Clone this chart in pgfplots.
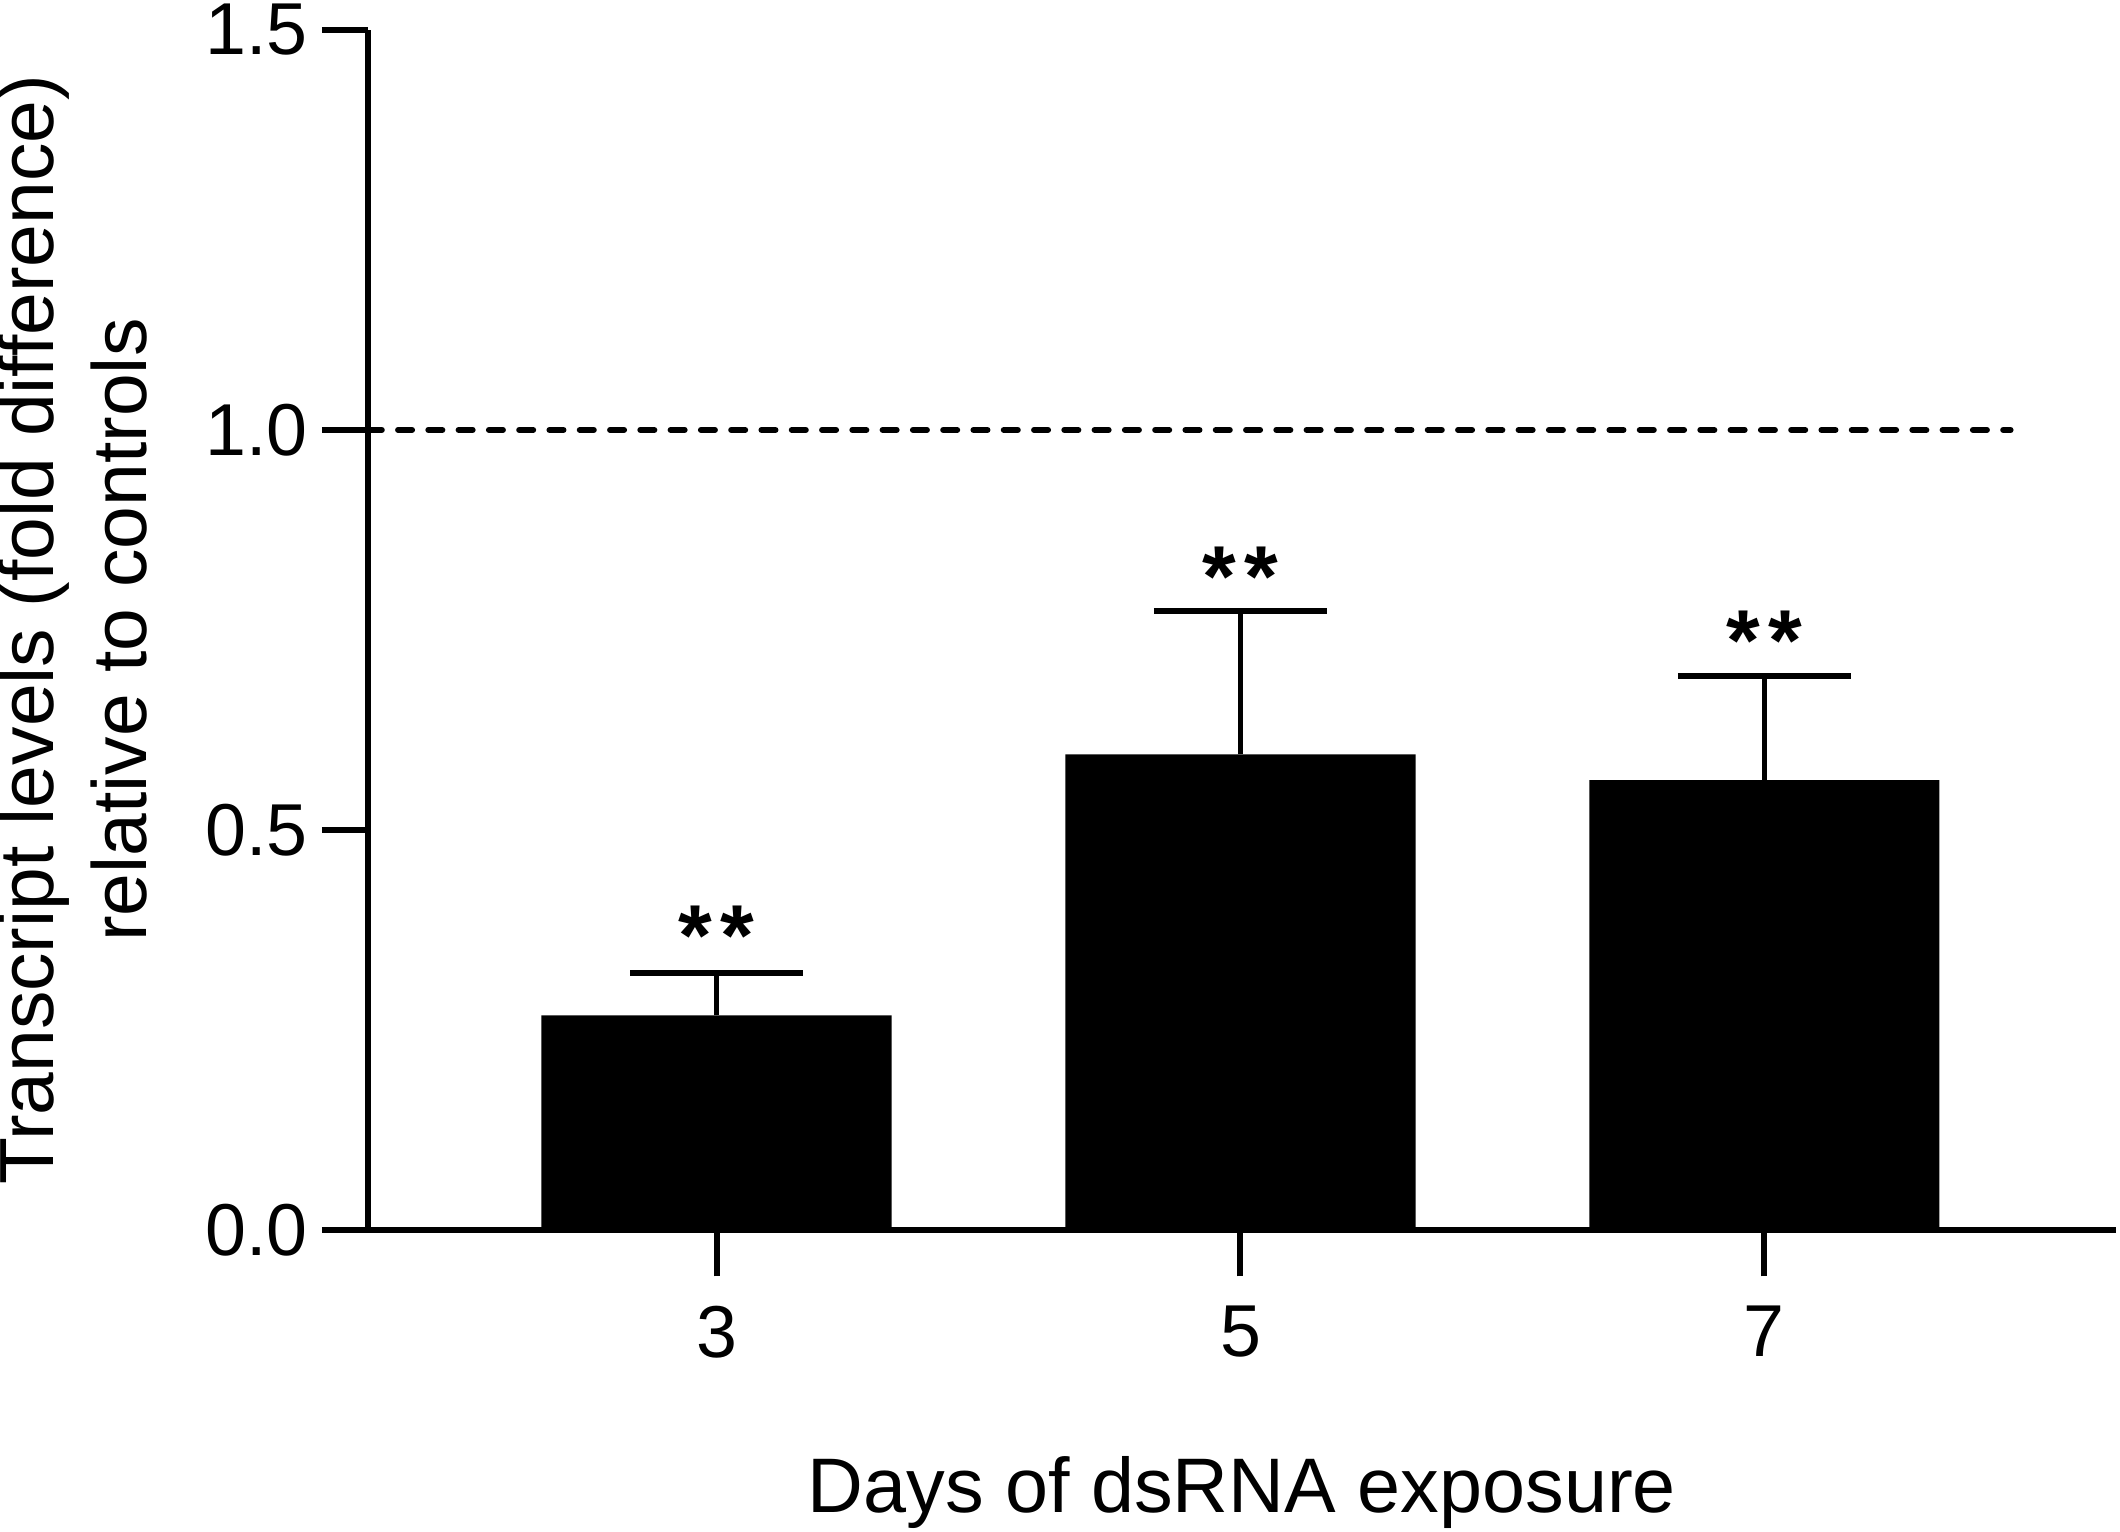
\documentclass[border=0pt]{standalone}
\usepackage{pgfplots}
\pgfplotsset{compat=1.18}
\usepackage{fontspec}
\setmainfont{Liberation Sans}
\begin{document}
\fontsize{13.5}{17}\selectfont
\begin{tikzpicture}
\begin{axis}[
  name=ax,
  scale only axis, width=323.25pt, height=222pt,
  xmin=-0.6658, xmax=2.671, ymin=0, ymax=1.5,
  axis lines*=left, axis line style={line width=1.1pt,-},
  xtick={0,1,2}, xticklabels={3,5,7},
  ytick={0,0.5,1,1.5}, yticklabels={0.0,0.5,1.0,1.5},
  tick align=outside, major tick length=8.5pt,
  tick style={line width=1.1pt, black},
  every tick label/.append style={font=\fontsize{13.6}{16}\selectfont, inner sep=0pt},
  xticklabel style={anchor=north, yshift=-5.25pt},
  yticklabel style={anchor=east, xshift=-2.4pt},
  every axis x label/.style={at={(axis description cs:0.5,-0.2354)}, anchor=base, inner sep=0pt, font=\fontsize{14.3}{18}\selectfont},
  every axis y label/.style={at={(axis description cs:-0.1253,0.5)}, rotate=90, anchor=south, inner sep=0pt, align=center, font=\fontsize{14.2}{17.2}\selectfont},
  xlabel={Days of dsRNA exposure},
  ylabel={Transcript levels (fold difference)\\relative to controls},
  clip=false,
]
\addplot[ybar, bar width=64.75pt, fill=black, draw=none,
  error bars/.cd, y dir=plus, y explicit,
  error mark=|,
  error bar style={line width=1pt, black},
  error mark options={line width=1.1pt, mark size=16pt, black, rotate=0}]
  coordinates {
    (0,0.2686) +- (0,0.0524)
    (1,0.5946) +- (0,0.1794)
    (2,0.5625) +- (0,0.1301)
  };
\addplot[black, line width=1.1pt, dash pattern=on 2.6pt off 3pt, line cap=round, sharp plot, no marks]
  coordinates {(-0.6658,1) (2.470,1)};
\node[anchor=north, inner sep=0pt, font=\fontsize{16}{16}\selectfont\bfseries] at (axis cs:0,0.407) {*\kern1.6pt*};
\node[anchor=north, inner sep=0pt, font=\fontsize{16}{16}\selectfont\bfseries] at (axis cs:1,0.855) {*\kern1.6pt*};
\node[anchor=north, inner sep=0pt, font=\fontsize{16}{16}\selectfont\bfseries] at (axis cs:2,0.775) {*\kern1.6pt*};
\end{axis}
\pgfresetboundingbox
\path[use as bounding box] ([shift={(-68pt,-55.6pt)}]ax.south west) rectangle ([shift={(324pt,227.5pt)}]ax.south west);
\end{tikzpicture}
\end{document}
